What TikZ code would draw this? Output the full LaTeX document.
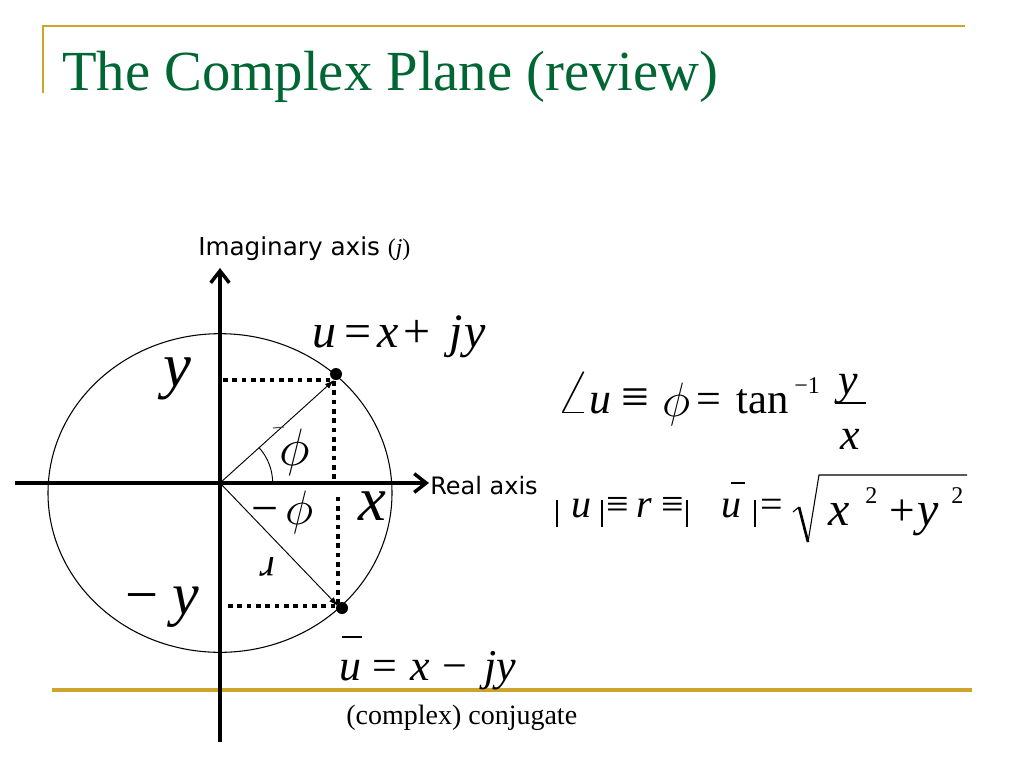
\documentclass[tikz,border=0pt]{standalone}
\usepackage{fontspec}
\setmainfont{Liberation Serif}
\newfontfamily\sansfam{DejaVu Sans}
\usetikzlibrary{arrows.meta}
\definecolor{titlegreen}{RGB}{0,102,51}
\definecolor{gold}{RGB}{205,165,45}
\newcommand{\fs}[1]{\fontsize{#1}{#1}\selectfont}
\newcommand{\bigmath}[2]{\scalebox{#1}{\fs{20}$#2$}}
\tikzset{
  goldline/.style={draw=gold,line width=2pt},
  axisline/.style={line width=3pt,-{Straight Barb[length=9pt,width=14pt,line width=2.6pt]}},
  vecline/.style={line width=0.7pt,-{Latex[length=7pt,width=4.5pt]}},
  dotline/.style={line width=3pt,dash pattern=on 3.4pt off 3.6pt},
  ptdot/.style={circle,fill=black,inner sep=0pt,minimum size=9pt},
  absbar/.style={line width=1.2pt},
  lbl/.style={inner sep=0pt},
  m/.style={inner sep=0pt,anchor=base west},
  eqf/.style={font=\fs{30}},
  eqa/.style={font=\fs{33}},
  eqb/.style={font=\fs{36}},
  supf/.style={font=\fs{18}},
}
\begin{document}
\begin{tikzpicture}[x=0.75pt,y=-0.75pt]
\useasboundingbox (0,0) rectangle (1024,768);
% frame lines
\draw[goldline] (42,26) -- (965,26);
\draw[goldline] (43,26) -- (43,93);
\draw[goldline,line width=2.4pt] (52,690) -- (972,690);
% title
\node[m,text=titlegreen] (title) at (62,90) {\fs{42.5}The Complex Plane (review)};
% ellipse
\coordinate (O) at (220,483);
\draw[line width=0.8pt] (220,493) ellipse [x radius=129pt, y radius=119.5pt];
% axes
\coordinate (ybot) at (220,742);
\coordinate (ytop) at (220,268);
\coordinate (xleft) at (15,483);
\coordinate (xright) at (429,483);
\draw[axisline] (ybot) -- (ytop);
\draw[axisline] (xleft) -- (xright);
% points
\coordinate (C1) at (334,380);
\coordinate (C2) at (338,606);
\node[ptdot] (P) at (336,374) {};
\node[ptdot] (Q) at (342,608) {};
% dotted projections
\coordinate (H1) at (223,380);
\coordinate (V1) at (334,483);
\coordinate (H2) at (228,606);
\coordinate (V2) at (338,495);
\draw[dotline] (H1) -- (C1) -- (V1);
\draw[dotline] (H2) -- (C2) -- (V2);
% vectors
\draw[vecline] (O) -- (C1);
\draw[vecline] (O) -- (C2);
% angle arc
\draw[line width=0.7pt] ([shift={(0:39.5pt)}]O) arc[start angle=0,end angle=42.4,radius=39.5pt];
% small marks
\coordinate (m1) at (273,428);
\coordinate (m2) at (284,427);
\draw[line width=0.8pt,black!70] (m1) -- (m2);
\node[lbl] (rr) at (268,567) {\fs{30}\rotatebox{180}{\itshape r}};
% axis labels
\node[m] (imag) at (198,255) {\sansfam\fs{18.5}Imaginary axis \rmfamily\fs{18}(\textit{j})};
\node[m] (real) at (430,494) {\sansfam\fs{18}Real axis};
% diagram letters
\node[m] (ylab) at (163,386) {\fs{47}\textit{y}};
\node[m] (mylabm) at (125,614) {\fs{44}−};
\node[m] (mylab) at (172,614) {\fs{45}\textit{y}};
\node[m] (xlab) at (358,520) {\fs{47}\textit{x}};
\node[lbl] (phi) at (295,452) {\bigmath{1.9}{\phi}};
\node[m] (mphim) at (251,524) {\fs{36}−};
\node[lbl] (mphi) at (300,512) {\bigmath{1.75}{\phi}};
% u = x + jy
\node[m] (u1) at (312,347) {\fs{36}\textit{u}};
\node[m] (u1eq) at (344,347) {\fs{36}=};
\node[m] (u1x) at (377,347) {\fs{36}\textit{x}};
\node[m] (u1p) at (403,347) {\fs{36}+};
\node[m] (u1j) at (449,347) {\fs{36}\textit{j}};
\node[m] (u1y) at (464,347) {\fs{36}\textit{y}};
% conj u = x - jy
\node[m] (u2) at (339,680) {\fs{33}\textit{u}};
\coordinate (b1) at (342,637);
\coordinate (b2) at (362,637);
\draw[line width=1.1pt] (b1) -- (b2);
\node[m] (u2eq) at (372,680) {\fs{33}=};
\node[m] (u2x) at (410,680) {\fs{33}\textit{x}};
\node[m] (u2m) at (442,680) {\fs{33}−};
\node[m] (u2j) at (484,680) {\fs{33}\textit{j}};
\node[m] (u2y) at (496,680) {\fs{33}\textit{y}};
\node[m] (conj) at (346,724) {\fs{21}(complex) conjugate};
% right equation 1
\node[m] (ang) at (556,413) {\bigmath{2.3}{\angle}};
\node[m,eqa] (e1u) at (589,413) {\textit{u}};
\node[m,font=\fs{37}] (e1id) at (621,413) {≡};
\node[m] (e1phi) at (662,416) {\bigmath{1.75}{\phi}};
\node[m,eqa] (e1eq) at (696,413) {=};
\node[m,font=\fs{32}] (tan) at (736,413) {tan};
\node[m,supf] (sup1) at (794,393) {−1};
\node[m,eqa] (num) at (838,394) {\textit{y}};
\node[m,eqa] (den) at (840,449) {\textit{x}};
\coordinate (f1) at (835,403);
\coordinate (f2) at (866,403);
\draw[line width=1pt] (f1) -- (f2);
% right equation 2
\coordinate (a1t) at (557,500);
\coordinate (a1b) at (557,527);
\coordinate (a2t) at (602,500);
\coordinate (a2b) at (602,527);
\coordinate (a3t) at (687,500);
\coordinate (a3b) at (687,527);
\coordinate (a4t) at (755,500);
\coordinate (a4b) at (755,527);
\draw[absbar] (a1t) -- (a1b);
\draw[absbar] (a2t) -- (a2b);
\draw[absbar] (a3t) -- (a3b);
\draw[absbar] (a4t) -- (a4b);
\node[m,eqf] (e2u) at (571,517) {\textit{u}};
\node[m,eqf] (e2id1) at (606,517) {≡};
\node[m,eqf] (e2r) at (636,517) {\textit{r}};
\node[m,eqf] (e2id2) at (661,517) {≡};
\node[m,eqf] (e2ub) at (721,517) {\textit{u}};
\coordinate (ub1) at (731,483);
\coordinate (ub2) at (745,483);
\draw[line width=1pt] (ub1) -- (ub2);
\node[m,eqf] (e2eq) at (760,517) {=};
\coordinate (r0) at (793,512);
\coordinate (r1) at (799,507);
\coordinate (r2) at (808,542);
\coordinate (r3) at (819,475);
\coordinate (r4) at (967,475);
\draw[line width=0.8pt,line join=miter] (r0) -- (r1);
\draw[line width=2pt] (r1) -- (r2);
\draw[line width=0.8pt,line join=miter] (r2) -- (r3) -- (r4);
\node[m,eqb] (e2x) at (828,525) {\textit{x}};
\node[m,supf] (sq1) at (865,503) {2};
\node[m,font=\fs{34}] (e2p) at (889,525) {+};
\node[m,eqb] (e2y) at (917,525) {\textit{y}};
\node[m,supf] (sq2) at (951,503) {2};
\end{tikzpicture}
\end{document}
